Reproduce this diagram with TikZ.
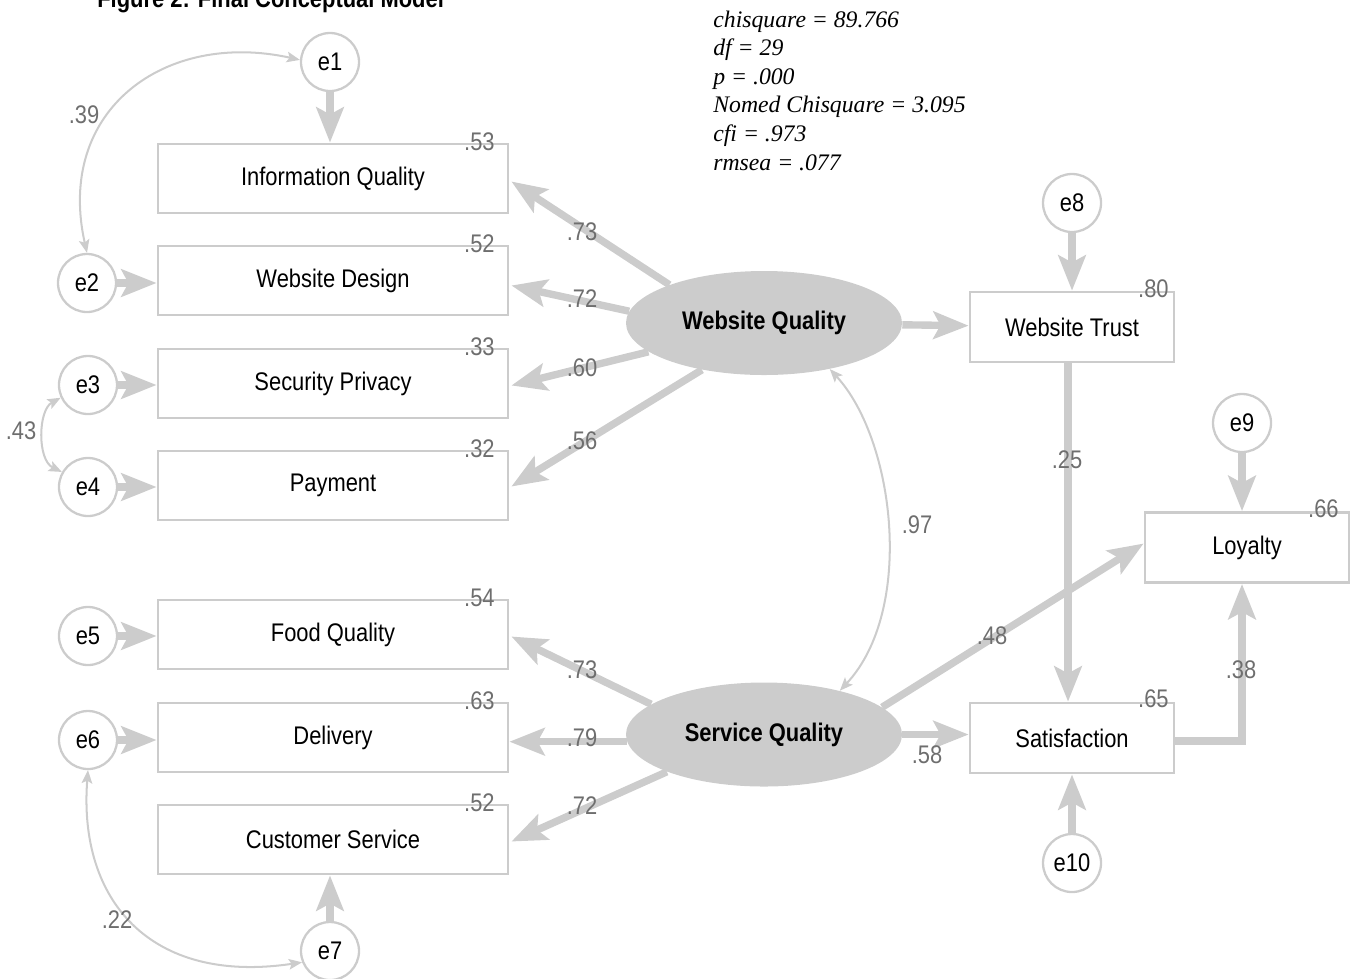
\documentclass[tikz,border=0pt]{standalone}
\usepackage{fontspec}
\setmainfont{Liberation Sans}
\newfontfamily\cond[FakeStretch=0.86]{Liberation Sans}
\newfontfamily\statfont{Liberation Serif}
\usetikzlibrary{arrows.meta,calc,shapes.geometric}
\definecolor{lgray}{RGB}{204,204,204}
\definecolor{labgray}{RGB}{110,110,110}
\def\px{0.02cm}
\tikzset{
  obs/.style={draw=lgray, line width=1.6pt, minimum width=350*\px, minimum height=69*\px, inner sep=0pt, font=\cond\fontsize{14.5}{16}\selectfont},
  obssm/.style={obs, minimum width=204*\px, minimum height=70*\px},
  err/.style={circle, draw=lgray, line width=1.3pt, minimum size=58*\px, inner sep=0pt, font=\cond\fontsize{14.5}{16}\selectfont},
  lat/.style={ellipse, fill=lgray, minimum width=276*\px, minimum height=104*\px, inner sep=0pt, font=\cond\bfseries\fontsize{14.5}{16}\selectfont},
  load/.style={draw=lgray, line width=4.2pt, -{Stealth[length=20pt,width=15.5pt,inset=4pt]}},
  cov/.style={draw=lgray, line width=1.15pt, {Stealth[length=7.5pt,width=6pt,inset=1.5pt]}-{Stealth[length=7.5pt,width=6pt,inset=1.5pt]}},
  lab/.style={text=labgray, inner sep=0pt, font=\cond\fontsize{14.5}{16}\selectfont},
  stat/.style={anchor=base west, inner sep=0pt, font=\statfont\itshape\fontsize{13.5}{16}\selectfont}
}
\begin{document}
\begin{tikzpicture}[x=0.02cm, y=-0.02cm]
\useasboundingbox (0,0) rectangle (1354,978);
\clip (0,0) rectangle (1354,978);

% title (cut off at top, as in the reference)
\node[anchor=base west, inner sep=0pt, font=\cond\bfseries\fontsize{14.5}{16}\selectfont] (title) at (97,7) {Figure 2: Final Conceptual Model};

% fit statistics
\node[stat] (s1) at (713,27) {chisquare = 89.766};
\node[stat] (s2) at (713,55.6) {df = 29};
\node[stat] (s3) at (713,84.2) {p = .000};
\node[stat] (s4) at (713,112.8) {Nomed Chisquare = 3.095};
\node[stat] (s5) at (713,141.4) {cfi = .973};
\node[stat] (s6) at (713,170) {rmsea = .077};

% observed variables
\node[obs] (iq) at (333,178.5) {Information Quality};
\node[obs] (wd) at (333,280.5) {Website Design};
\node[obs] (sp) at (333,383.5) {Security Privacy};
\node[obs] (pa) at (333,485.5) {Payment};
\node[obs] (fq) at (333,634.5) {Food Quality};
\node[obs] (de) at (333,737.5) {Delivery};
\node[obs] (cs) at (333,839.5) {Customer Service};
\node[obssm] (wt) at (1072,327) {Website Trust};
\node[obssm] (sat) at (1072,738) {Satisfaction};
\node[obssm] (loy) at (1247,547.5) {Loyalty};

% latent variables
\node[lat] (wq) at (764,323) {Website Quality};
\node[lat] (sq) at (764,734.5) {Service Quality};

% error terms
\node[err] (e1) at (330,62) {e1};
\node[err] (e2) at (87,283) {e2};
\node[err] (e3) at (88,385) {e3};
\node[err] (e4) at (88,487) {e4};
\node[err] (e5) at (88,636) {e5};
\node[err] (e6) at (88,740) {e6};
\node[err] (e7) at (330,951) {e7};
\node[err] (e8) at (1072,203) {e8};
\node[err] (e9) at (1242,423) {e9};
\node[err] (e10) at (1072,863) {e10};

% error arrows
\draw[load] (e1) -- (e1 |- iq.north);
\draw[load] (e2) -- (e2 -| wd.west);
\draw[load] (e3) -- (e3 -| sp.west);
\draw[load] (e4) -- (e4 -| pa.west);
\draw[load] (e5) -- (e5 -| fq.west);
\draw[load] (e6) -- (e6 -| de.west);
\draw[load] (e7) -- (e7 |- cs.south);
\draw[load] (e8) -- (e8 |- wt.north);
\draw[load] (e9) -- (e9 |- loy.north);
\draw[load] (e10) -- (e10 |- sat.south);

% loadings
\draw[load] (wq.158) -- ($(iq.east)+(2,3)$);
\draw[load] (wq.175) -- ($(wd.east)+(2,5)$);
\draw[load] (wq.194) -- ($(sp.east)+(2,2)$);
\draw[load] (wq.217) -- ($(pa.east)+(2,1)$);
\draw[load] (sq.165) -- ($(fq.east)+(2,2)$);
\draw[load] (sq.183) -- (sq.183 -| de.east);
\draw[load] (sq.201) -- ($(cs.east)+(2,2)$);

% structural paths
\draw[load] (wq) -- (wt);
\draw[load] ($(wt.south)+(-4,0)$) -- ($(sat.north)+(-4,0)$);
\draw[load] (sq.13) -- ($(loy.west)+(0,-4)$);
\draw[load] (sq.east) -- (sq.east -| sat.west);
\draw[load] ($(sat.east)+(0,3)$) -| ($(loy.south)+(-5,0)$);

% covariances
\draw[cov] (e1.176) .. controls (165,30) and (55,110) .. (e2.north);
\draw[cov] (e3.205) .. controls (38,410) and (37,460) .. (e4.150);
\draw[cov] (e6.south) .. controls (78,900) and (150,985) .. (e7.202);
\draw[cov] (wq.-35) .. controls (895,440) and (915,610) .. (sq.30);

% covariance labels
\node[lab] (c1) at (84,115) {.39};
\node[lab] (c2) at (21,431) {.43};
\node[lab] (c3) at (117,920) {.22};
\node[lab] (c4) at (917,525) {.97};

% loading labels
\node[lab] (l1) at (582,232) {.73};
\node[lab] (l2) at (582,299) {.72};
\node[lab] (l3) at (582,368) {.60};
\node[lab] (l4) at (582,441) {.56};
\node[lab] (l5) at (582,670) {.73};
\node[lab] (l6) at (582,738) {.79};
\node[lab] (l7) at (582,806) {.72};

% path labels
\node[lab] (p1) at (1067,460) {.25};
\node[lab] (p2) at (992,636) {.48};
\node[lab] (p3) at (927,755) {.58};
\node[lab] (p4) at (1241,670) {.38};

% squared multiple correlations
\node[lab] (r1) at ($(iq.north east)+(-30,-1)$) {.53};
\node[lab] (r2) at ($(wd.north east)+(-30,-1)$) {.52};
\node[lab] (r3) at ($(sp.north east)+(-30,-1)$) {.33};
\node[lab] (r4) at ($(pa.north east)+(-30,-1)$) {.32};
\node[lab] (r5) at ($(fq.north east)+(-30,-1)$) {.54};
\node[lab] (r6) at ($(de.north east)+(-30,-1)$) {.63};
\node[lab] (r7) at ($(cs.north east)+(-30,-1)$) {.52};
\node[lab] (r8) at ($(wt.north east)+(-22,-2)$) {.80};
\node[lab] (r9) at ($(loy.north east)+(-27,-2)$) {.66};
\node[lab] (r10) at ($(sat.north east)+(-22,-3)$) {.65};
\end{tikzpicture}
\end{document}
